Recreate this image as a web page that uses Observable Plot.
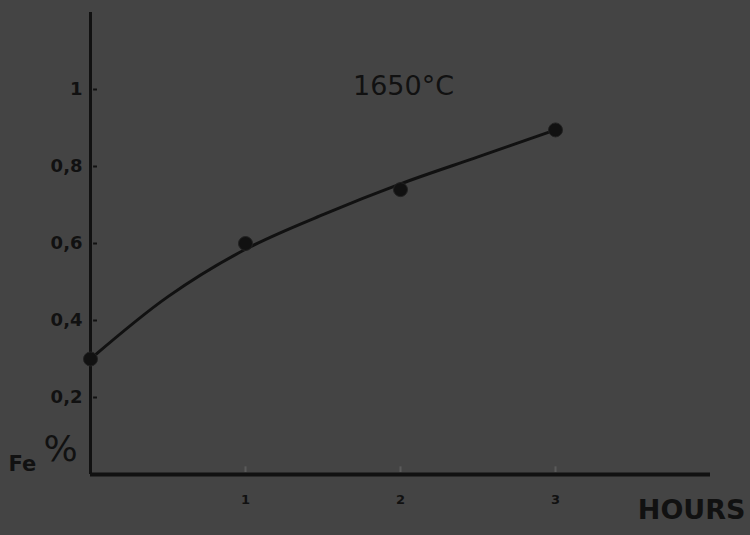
<!DOCTYPE html>
<html>
<head>
<meta charset="utf-8">
<script src="https://cdn.jsdelivr.net/npm/d3@7"></script>
<script src="https://cdn.jsdelivr.net/npm/@observablehq/plot@0.6"></script>
<style>
  html, body { margin: 0; padding: 0; background: #444444; }
  #chart svg { display: block; background: #444444; }
</style>
</head>
<body>
<div id="chart"></div>
<script>
// Measured points (hours, Fe %)
const hours = [0, 1, 2, 3];
const fePct = [0.30, 0.60, 0.74, 0.895];

// Hand-drawn smooth curve
const curveHours = [0, 0.5, 1, 1.5, 2, 2.5, 3];
const curveFe = [0.30, 0.462, 0.585, 0.675, 0.755, 0.825, 0.895];

// Tick labels
const xTicks = [1, 2, 3];
const xTickLabels = ["1", "2", "3"];
const yTicks = [0.2, 0.4, 0.6, 0.8, 1];
const yTickLabels = ["0,2", "0,4", "0,6", "0,8", "1"];

const title = "1650°C";
const xLabel = "HOURS";

const points = hours.map((h, i) => ({h, v: fePct[i]}));
const curve = curveHours.map((h, i) => ({h, v: curveFe[i]}));
const ink = "#111111";

const chart = Plot.plot({
  width: 750,
  height: 535,
  marginLeft: 90,
  marginRight: 40,
  marginTop: 12,
  marginBottom: 61,
  style: {background: "#444444", color: ink, fontFamily: "DejaVu Sans, sans-serif"},
  x: {type: "linear", domain: [0, 4]},
  y: {type: "linear", domain: [0, 1.2]},
  marks: [
    Plot.axisX({ticks: xTicks, tickFormat: (d) => xTickLabels[xTicks.indexOf(d)], tickSize: 0, tickPadding: 20, fontSize: 13, fontWeight: "bold", label: null}),
    Plot.axisY({ticks: yTicks, tickFormat: (d) => yTickLabels[yTicks.indexOf(d)], tickSize: 0, tickPadding: 8, fontSize: 18, fontWeight: "bold", label: null}),
    Plot.ruleY(yTicks, {y: (d) => d, x1: 0.02, x2: 0.045, stroke: ink, strokeWidth: 2}),
    Plot.ruleX(xTicks, {x: (d) => d, y1: 0.005, y2: 0.02, stroke: "#5a5a5a", strokeWidth: 2}),
    Plot.ruleX([0], {y1: 0, y2: 1.2, stroke: ink, strokeWidth: 3}),
    Plot.ruleY([0], {x1: 0, x2: 4, stroke: ink, strokeWidth: 4}),
    Plot.line(curve, {x: "h", y: "v", curve: "catmull-rom", stroke: ink, strokeWidth: 3}),
    Plot.dot(points, {x: "h", y: "v", r: 7, fill: ink, stroke: "#222", strokeWidth: 1}),
    Plot.text([title], {frameAnchor: "top", dx: 3, dy: 63, fontSize: 27, fill: ink, text: (d) => d}),
    Plot.text([xLabel], {frameAnchor: "bottom-right", dx: 35, dy: 44, textAnchor: "end", fontSize: 27, fontWeight: "bold", fill: ink, text: (d) => d}),
    Plot.text(["Fe"], {frameAnchor: "bottom-left", dx: -82, dy: -4, textAnchor: "start", fontSize: 21, fontWeight: "bold", fill: ink, text: (d) => d}),
    Plot.text(["%"], {frameAnchor: "bottom-left", dx: -47, dy: -14, textAnchor: "start", fontSize: 36, fill: ink, text: (d) => d})
  ]
});
document.getElementById("chart").append(chart);
</script>
</body>
</html>
